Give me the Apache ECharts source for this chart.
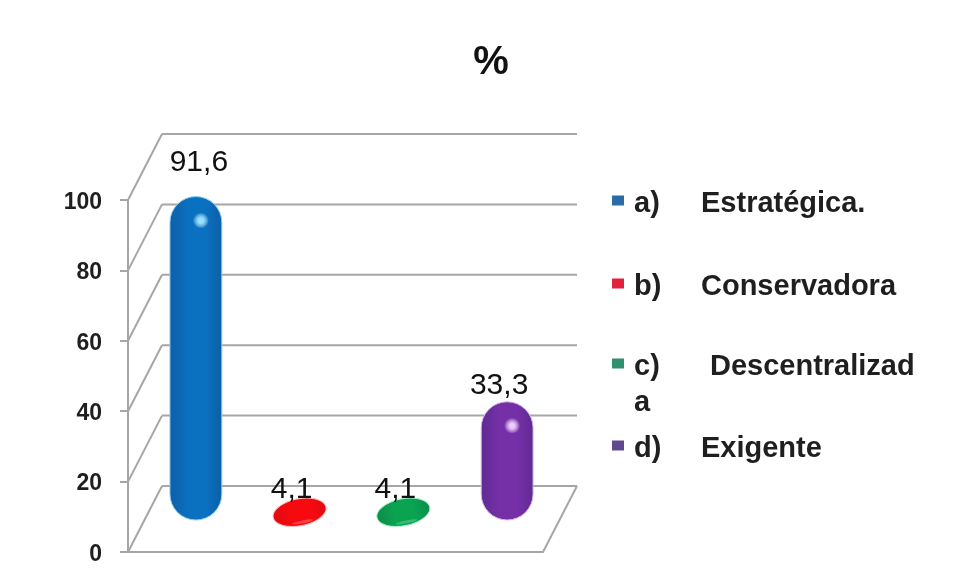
<!DOCTYPE html>
<html>
<head>
<meta charset="utf-8">
<style>html,body{margin:0;padding:0;background:#fff}#chart{width:956px;height:576px}</style>
<script src="https://cdn.jsdelivr.net/npm/echarts@6/dist/echarts.min.js"></script>
</head>
<body>
<div id="chart"></div>
<script>
// Survey results, one pillar per answer
const keys = ['a)', 'b)', 'c)', 'd)'];
const answers = ['Estratégica.', 'Conservadora', 'Descentralizad', 'Exigente'];
const wrappedTail = 'a';
const percents = [91.6, 4.1, 4.1, 33.3];
const percentLabels = ['91,6', '4,1', '4,1', '33,3'];
const axisTicks = [0, 20, 40, 60, 80, 100];
const chartTitle = '%';

// Pillar shading: edge, centre, highlight, rim
const pillarColors = [
  ['#0e5ea6', '#0a70c0', '#8fe4ff', '#8fd0f5'],
  ['#e00a10', '#f60a10', '#ffb0b0', '#ffc0c0'],
  ['#0c8c48', '#0aa352', '#b0f5cc', '#b0f0d0'],
  ['#5f2a92', '#7530a8', '#f0c8ff', '#d8b8ea']
];
const legendColors = ['#2b6ca8', '#e0203c', '#2f9070', '#5f4a90'];

// Oblique projection of the chart box
const DEPTH_X = 34, DEPTH_Y = -66;
const GRAY = '#a6a6a6';
const LABEL_LIFT = [34, 15, 15, 16];
const LABEL_SHIFT = [3, -8, -8, -8];
const LEGEND_TOP = [189, 272, 352, 434];

function boxRenderer(params, api) {
  const front = api.coord([0, api.value(1)]);
  const left = params.coordSys.x;
  const right = left + params.coordSys.width;
  const y = front[1];
  const line = (x1, y1, x2, y2) => ({
    type: 'line', silent: true,
    shape: { x1, y1, x2, y2 },
    style: { stroke: GRAY, lineWidth: 2, fill: null }
  });
  const children = [
    line(left, y, left + DEPTH_X, y + DEPTH_Y),
    line(left + DEPTH_X, y + DEPTH_Y, right + DEPTH_X, y + DEPTH_Y)
  ];
  if (api.value(1) === 0) {
    children.push(line(right, y, right + DEPTH_X, y + DEPTH_Y));
  }
  return { type: 'group', children };
}

function pillarRenderer(index) {
  return function (params, api) {
    const top = api.coord([api.value(0), api.value(1)]);
    const base = api.coord([api.value(0), 0]);
    const w = api.size([1, 0])[0] * 0.5;
    const cx = top[0] + DEPTH_X / 2 - 1;
    const topY = top[1] + DEPTH_Y / 2;
    const baseY = base[1] + DEPTH_Y / 2 + 1;
    const h = baseY - topY;
    const c = pillarColors[index];
    const children = [];
    const across = {
      type: 'linear', x: 0, y: 0, x2: 1, y2: 0,
      colorStops: [
        { offset: 0, color: c[0] }, { offset: 0.35, color: c[1] },
        { offset: 0.7, color: c[1] }, { offset: 1, color: c[0] }
      ]
    };
    if (h < w) {
      // A value too short for a capsule flattens into a tilted disc
      const midY = (topY + baseY) / 2;
      children.push({
        type: 'ellipse',
        shape: { cx, cy: midY, rx: w / 2 + 1, ry: 13.5 },
        originX: cx, originY: midY, rotation: 0.2,
        style: { fill: across, stroke: c[3], lineWidth: 1 }
      });
      children.push({
        type: 'ellipse',
        shape: { cx: cx + 1, cy: midY + 10, rx: 11, ry: 1.5 },
        originX: cx, originY: midY, rotation: 0.2,
        style: { fill: c[3], opacity: 0.3 }
      });
    } else {
      children.push({
        type: 'rect',
        shape: { x: cx - w / 2, y: topY, width: w, height: h, r: w / 2 },
        style: { fill: across, stroke: c[3], lineWidth: 1 }
      });
      children.push({
        type: 'circle',
        shape: { cx: cx + 5, cy: topY + 24, r: 8 },
        style: {
          fill: {
            type: 'radial', x: 0.5, y: 0.5, r: 0.5,
            colorStops: [
              { offset: 0, color: c[2] }, { offset: 0.3, color: c[2] },
              { offset: 1, color: 'rgba(255,255,255,0)' }
            ]
          }
        }
      });
    }
    children.push({
      type: 'text', z2: 10,
      x: cx + LABEL_SHIFT[index], y: topY - LABEL_LIFT[index],
      style: {
        text: percentLabels[index],
        fill: '#111',
        fontFamily: 'Liberation Sans',
        fontSize: 30,
        align: 'center', verticalAlign: 'middle'
      }
    });
    return { type: 'group', children };
  };
}

const pillarSeries = answers.map((name, i) => ({
  type: 'custom',
  name,
  z: 3,
  silent: true,
  renderItem: pillarRenderer(i),
  encode: { x: 0, y: 1 },
  data: [[i, percents[i]]]
}));

const legendText = { fontFamily: 'Liberation Sans', fontSize: 29, fontWeight: 'bold', color: '#1f1f1f' };
const legends = answers.map((name, i) => ({
  data: [{ name, itemStyle: { color: legendColors[i] } }],
  left: 612,
  top: LEGEND_TOP[i],
  padding: 0,
  icon: 'rect',
  itemWidth: 12,
  itemHeight: 10,
  itemGap: 0,
  selectedMode: false,
  formatter: n => `{k|${keys[i]}}{n|${n}}`,
  textStyle: {
    rich: {
      k: Object.assign({}, legendText, { width: i === 2 ? 76 : 67, padding: [6, 0, 0, 5] }),
      n: Object.assign({}, legendText, { padding: [6, 0, 0, 0] })
    }
  }
}));

const chart = echarts.init(document.getElementById('chart'), null, { renderer: 'canvas' });
chart.setOption({
  animation: false,
  backgroundColor: '#fff',
  title: {
    text: chartTitle,
    left: 486, top: 38, textAlign: 'center',
    textStyle: { fontFamily: 'Liberation Sans', fontSize: 40, fontWeight: 'bold', color: '#111' }
  },
  grid: { left: 128, top: 200, width: 415, height: 352 },
  xAxis: {
    type: 'category',
    data: answers,
    axisLine: { lineStyle: { color: GRAY, width: 2 } },
    axisTick: { show: false },
    axisLabel: { show: false }
  },
  yAxis: {
    type: 'value', min: 0, max: 100, interval: 20,
    axisLine: { show: true, lineStyle: { color: GRAY, width: 2 } },
    axisTick: { show: true, length: 8, lineStyle: { color: GRAY, width: 2 } },
    axisLabel: {
      margin: 26,
      formatter: '{t|{value}}',
      rich: {
        t: { padding: [5, 0, 0, 0], color: '#1f1f1f', fontFamily: 'Liberation Sans', fontSize: 23, fontWeight: 'bold' }
      }
    },
    splitLine: { show: false }
  },
  legend: legends,
  graphic: [{
    type: 'text', left: 634, top: 388,
    style: { text: wrappedTail, fontFamily: 'Liberation Sans', fontSize: 29, fontWeight: 'bold', fill: '#1f1f1f' }
  }],
  series: [{
    type: 'custom',
    name: 'frame',
    z: 1,
    silent: true,
    renderItem: boxRenderer,
    encode: { x: 0, y: 1 },
    data: axisTicks.map(t => [0, t])
  }].concat(pillarSeries)
});
</script>
</body>
</html>
